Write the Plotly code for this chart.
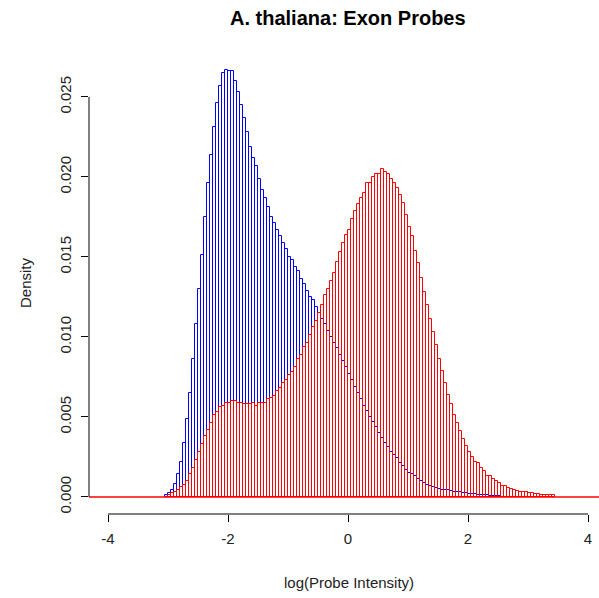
import plotly.graph_objects as go

# Histogram bin layout (breaks every 0.05 starting at -3.05)
BIN_START = -3.05
BIN_WIDTH = 0.05

# Proportion per bin
blue_values = [
    0.00012, 0.00023, 0.00044, 0.0008, 0.0014, 0.0022, 0.0034, 0.0049, 0.0065, 0.0086,
    0.0108, 0.0130, 0.0151, 0.0175, 0.0196, 0.0214, 0.0231, 0.0246, 0.0257, 0.0265,
    0.0267, 0.0266, 0.0266, 0.0260, 0.0253, 0.0245, 0.0237, 0.0228, 0.0219, 0.0212,
    0.0207, 0.0199, 0.0192, 0.0187, 0.0181, 0.0175, 0.0171, 0.0167, 0.0163, 0.0159,
    0.0155, 0.0150, 0.0148, 0.0144, 0.0141, 0.0136, 0.0133, 0.0129, 0.0125, 0.0123,
    0.0119, 0.0115, 0.0111, 0.0108, 0.0104, 0.0100, 0.0096, 0.0093, 0.0089, 0.0085,
    0.0081, 0.0077, 0.0073, 0.0069, 0.0065, 0.0061, 0.0057, 0.0054, 0.0050, 0.0047,
    0.0044, 0.0040, 0.0037, 0.0034, 0.0031, 0.0028, 0.0026, 0.0024, 0.0021, 0.0019,
    0.0017, 0.0015, 0.0014, 0.0013, 0.0011, 0.0010, 0.00086, 0.00077, 0.0007, 0.00064,
    0.00054, 0.0005, 0.00046, 0.00042, 0.0004, 0.00037, 0.00033, 0.0003, 0.00028, 0.00025,
    0.00023, 0.0002, 0.00018, 0.00016, 0.00013, 0.0001, 0.0001, 0.00009, 0.00008, 0.00007,
    0.00006, 0.00005,
]

red_values = [
    0.0, 0.00012, 0.00023, 0.0003, 0.00044, 0.0006, 0.00075, 0.0010, 0.0014, 0.0018,
    0.0023, 0.0028, 0.0033, 0.0038, 0.0042, 0.0046, 0.0051, 0.0053, 0.0056, 0.0057,
    0.0059, 0.0059, 0.0060, 0.0060, 0.0059, 0.0059, 0.0058, 0.0058, 0.0058, 0.0059,
    0.0057, 0.0059, 0.0059, 0.0059, 0.0061, 0.0062, 0.0063, 0.0066, 0.0068, 0.0071,
    0.0073, 0.0076, 0.0078, 0.0081, 0.0086, 0.0089, 0.0094, 0.0096, 0.0101, 0.0106,
    0.0110, 0.0115, 0.0120, 0.0126, 0.0130, 0.0135, 0.0140, 0.0147, 0.0153, 0.0159,
    0.0164, 0.0167, 0.0174, 0.0179, 0.0183, 0.0187, 0.0190, 0.0196, 0.0196, 0.0200,
    0.0202, 0.0202, 0.0205, 0.0203, 0.0202, 0.0199, 0.0196, 0.0193, 0.0189, 0.0184,
    0.0176, 0.0169, 0.0163, 0.0154, 0.0146, 0.0137, 0.0128, 0.0120, 0.0111, 0.0103,
    0.0095, 0.0086, 0.0079, 0.0071, 0.0064, 0.0058, 0.0051, 0.0046, 0.0041, 0.0036,
    0.0032, 0.0028, 0.0025, 0.0022, 0.0021, 0.0018, 0.0016, 0.0013, 0.0013, 0.0011,
    0.0010, 0.00086, 0.0007, 0.00065, 0.00054, 0.00048, 0.00044, 0.00038, 0.00033, 0.0003,
    0.0003, 0.00023, 0.00023, 0.00019, 0.00017, 0.00012, 0.0001, 0.0001, 0.0001, 0.0001,
]

x_ticks = [-4, -2, 0, 2, 4]
x_tick_labels = ["-4", "-2", "0", "2", "4"]
y_ticks = [0.000, 0.005, 0.010, 0.015, 0.020, 0.025]
y_tick_labels = ["0.000", "0.005", "0.010", "0.015", "0.020", "0.025"]

title_text = "A. thaliana: Exon Probes"
x_title = "log(Probe Intensity)"
y_title = "Density"


def centers(n):
    return [BIN_START + BIN_WIDTH * (i + 0.5) for i in range(n)]


FONT = "Liberation Sans, Arial, Helvetica, sans-serif"
TEXT = "#222222"

fig = go.Figure()
fig.add_trace(go.Bar(
    x=centers(len(blue_values)), y=blue_values, width=BIN_WIDTH,
    marker=dict(color="rgba(0,0,0,0)", line=dict(color="#0000FF", width=1)),
    showlegend=False, hoverinfo="skip",
))
fig.add_trace(go.Bar(
    x=centers(len(red_values)), y=red_values, width=BIN_WIDTH,
    marker=dict(color="rgba(0,0,0,0)", line=dict(color="#FF0000", width=1)),
    showlegend=False, hoverinfo="skip",
))

fig.update_layout(
    width=599, height=598,
    margin=dict(l=89, r=0, t=53, b=84),
    paper_bgcolor="white", plot_bgcolor="white",
    barmode="overlay", bargap=0,
    font=dict(family=FONT, size=15, color=TEXT),
    xaxis=dict(
        range=[-4 - 19 / 60, 4 + 11 / 60],
        tickvals=x_ticks, ticktext=x_tick_labels,
        ticks="outside", ticklen=7, tickcolor="#000000", tickwidth=1,
        showline=False, showgrid=False, zeroline=False,
        tickfont=dict(family=FONT, size=15, color=TEXT),
        ticklabelstandoff=4,
    ),
    yaxis=dict(
        range=[-0.00107, 0.02775],
        tickvals=y_ticks, ticktext=y_tick_labels,
        ticks="outside", ticklen=7, tickcolor="#000000", tickwidth=1,
        showline=False, showgrid=False, zeroline=False,
        tickangle=-90,
        tickfont=dict(family=FONT, size=15, color=TEXT),
        ticklabelstandoff=4,
    ),
    shapes=[
        # red baseline across the plot region
        dict(type="line", xref="paper", yref="y", x0=0, x1=1, y0=0, y1=0,
             line=dict(color="#FF0000", width=1.5)),
        # R-style x axis line from first to last tick
        dict(type="line", xref="x", yref="paper", x0=x_ticks[0], x1=x_ticks[-1], y0=0, y1=0,
             line=dict(color="#000000", width=1)),
        # R-style y axis line from first to last tick
        dict(type="line", xref="paper", yref="y", x0=0, x1=0, y0=y_ticks[0], y1=y_ticks[-1],
             line=dict(color="#000000", width=1)),
    ],
    annotations=[
        dict(text="<b>" + title_text + "</b>", xref="paper", yref="paper",
             x=(348 - 89) / 510, y=(514 - 18) / 461, showarrow=False,
             xanchor="center", yanchor="middle",
             font=dict(family=FONT, size=20, color="#000000")),
        dict(text=x_title, xref="paper", yref="paper",
             x=(349 - 89) / 510, y=(514 - 582) / 461, showarrow=False,
             xanchor="center", yanchor="middle",
             font=dict(family=FONT, size=15, color=TEXT)),
        dict(text=y_title, xref="paper", yref="paper",
             x=(25 - 89) / 510, y=(514 - 283) / 461, showarrow=False,
             xanchor="center", yanchor="middle", textangle=-90,
             font=dict(family=FONT, size=15, color=TEXT)),
    ],
)

fig.write_html("out.html")
